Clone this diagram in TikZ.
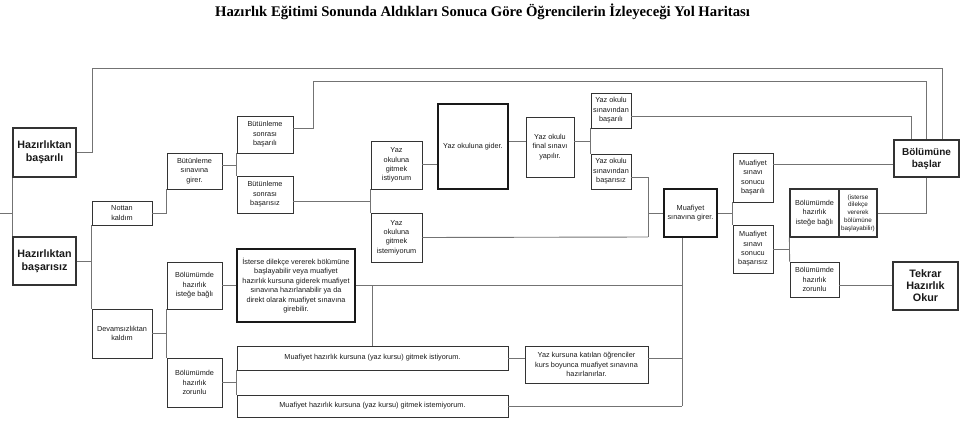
\documentclass[tikz,border=0pt]{standalone}
\usepackage{fontspec}
\setmainfont{Liberation Sans}
\newfontfamily\titlefont{Liberation Serif}

\begin{document}
\begin{tikzpicture}[x=1pt, y=-1pt,
  box/.style={draw=black!80, line width=0.8pt, inner sep=0pt, align=center,
    text=black!90, font=\fontsize{7.3}{9.4}\selectfont},
  bigbox/.style={box, line width=1.3pt, font=\bfseries\fontsize{10.7}{13}\selectfont},
  thickbox/.style={box, line width=1.6pt, draw=black!90},
  sz/.style 2 args={minimum width=#1, minimum height=#2},
  link/.style={draw=black!55, line width=0.9pt}]
  \useasboundingbox (0,0) rectangle (960,420);
  % Title
  \node[font=\titlefont\bfseries\fontsize{14.7}{17}\selectfont] (title) at (482.5,12)
    {Hazırlık Eğitimi Sonunda Aldıkları Sonuca Göre Öğrencilerin İzleyeceği Yol Haritası};
  % Hazirlik sonucu
  \node[bigbox, sz={63}{49}] (basarili) at (44.5,152.5) {Hazırlıktan\\başarılı};
  \node[bigbox, sz={63}{48}] (basarisiz) at (44.5,261) {Hazırlıktan\\başarısız};
  \node[box, sz={60}{24}] (nottan) at (122,213) {Nottan\\kaldım};
  \node[box, sz={60}{49}] (devam) at (122,333.5) {Devamsızlıktan\\kaldım};
  \node[box, sz={55}{36}] (butgirer) at (194.5,171) {Bütünleme\\sınavına\\girer.};
  \node[box, sz={55}{47}] (istegeA) at (194.5,285.5) {Bölümümde\\hazırlık\\isteğe bağlı};
  \node[box, sz={55}{49}] (zorunluA) at (194.5,382.5) {Bölümümde\\hazırlık\\zorunlu};
  % Butunleme
  \node[box, sz={56}{37}] (butok) at (265,134.5) {Bütünleme\\sonrası\\başarılı};
  \node[box, sz={56}{37}] (butno) at (265,194.5) {Bütünleme\\sonrası\\başarısız};
  \node[thickbox, sz={118}{73}] (isterse) at (296,285.5)
    {İsterse dilekçe vererek bölümüne\\başlayabilir veya muafiyet\\hazırlık kursuna giderek muafiyet\\sınavına hazırlanabilir ya da\\direkt olarak muafiyet sınavına\\girebilir.};
  \node[box, sz={271}{24}] (kursevet) at (372.5,358) {Muafiyet hazırlık kursuna (yaz kursu) gitmek istiyorum.};
  \node[box, sz={271}{22}] (kurshayir) at (372.5,406) {Muafiyet hazırlık kursuna (yaz kursu) gitmek istemiyorum.};
  % Yaz okulu
  \node[box, sz={51}{48}] (yazevet) at (396.5,165) {Yaz\\okuluna\\gitmek\\istiyorum};
  \node[box, sz={51}{49}] (yazhayir) at (396.5,237.5) {Yaz\\okuluna\\gitmek\\istemiyorum};
  \node[thickbox, sz={70}{85}] (gider) at (473,146.5) {Yaz okuluna gider.};
  \node[box, sz={48}{60}] (final) at (550,147) {Yaz okulu\\final sınavı\\yapılır.};
  \node[box, sz={40}{35}] (yazok) at (611,110.5) {Yaz okulu\\sınavından\\başarılı};
  \node[box, sz={40}{35}] (yazno) at (611,171.5) {Yaz okulu\\sınavından\\başarısız};
  \node[box, sz={123}{37}] (kurs) at (586.5,364.5)
    {Yaz kursuna katılan öğrenciler\\kurs boyunca muafiyet sınavına\\hazırlanırlar.};
  % Muafiyet
  \node[thickbox, sz={53}{48}] (mgirer) at (690.5,213) {Muafiyet\\sınavına girer.};
  \node[box, sz={40}{49}] (mok) at (753,177.5) {Muafiyet\\sınavı\\sonucu\\başarılı};
  \node[box, sz={40}{48}] (mno) at (753,249) {Muafiyet\\sınavı\\sonucu\\başarısız};
  \node[box, line width=1.2pt, sz={49}{48}] (istegeB) at (814.5,213) {Bölümümde\\hazırlık\\isteğe bağlı};
  \node[box, line width=1.2pt, sz={38}{48}, font=\fontsize{6.3}{7.8}\selectfont] (istersenot) at (858,213)
    {(isterse\\dilekçe\\vererek\\bölümüne\\başlayabilir)};
  \node[box, sz={49}{35}] (zorunluB) at (814.5,279.5) {Bölümümde\\hazırlık\\zorunlu};
  \node[bigbox, sz={65}{37}, font=\bfseries\fontsize{10}{12}\selectfont] (baslar) at (926.5,158.5) {Bölümüne\\başlar};
  \node[bigbox, sz={65}{48}, font=\bfseries\fontsize{10.8}{12}\selectfont] (tekrar) at (925.5,286) {Tekrar\\Hazırlık\\Okur};

  % Baglantilar
  \coordinate (edgeL) at (0,213);
  \coordinate (c1) at (92,68);
  \coordinate (c2) at (313,81);
  \coordinate (j1) at (648,237);
  \coordinate (j2) at (682,406);
  \draw[link] (edgeL) -- (edgeL -| basarili.west);
  \draw[link] (basarili.south west) -- (basarisiz.north west);
  \draw[link] (basarili.east) -| (c1) -| ([xshift=15.5]baslar.north);
  \draw[link] (basarisiz.east) -- (basarisiz.east -| nottan.west);
  \draw[link] (nottan.south west) -- (devam.north west);
  \draw[link] (nottan.east) -| (butgirer.south west);
  \draw[link] (devam.east) -- (devam.east -| istegeA.west);
  \draw[link] (istegeA.south west) -- (zorunluA.north west);
  \draw[link] ([yshift=6]butgirer.east) -- ([yshift=6]butgirer.east -| butok.west);
  \draw[link] (butok.south west) -- (butno.north west);
  \draw[link] ([yshift=6.5]butok.east) -| (c2) -| (baslar.north);
  \draw[link] ([yshift=-6.5]butno.east) -- ([yshift=-6.5]butno.east -| yazevet.west);
  \draw[link] (yazevet.south west) -- (yazhayir.north west);
  \draw[link] (istegeA.east) -- (isterse.west);
  \draw[link] (isterse.east) -- (isterse.east -| j2);
  \draw[link] (isterse.east -| kursevet.north) -- (kursevet.north);
  \draw[link] (zorunluA.east) -- (zorunluA.east -| kursevet.west);
  \draw[link] (kursevet.south west) -- (kurshayir.north west);
  \draw[link] (kursevet.east) -- (kursevet.east -| kurs.west);
  \draw[link] (kursevet.east -| kurs.east) -- (kursevet.east -| j2);
  \draw[link] (kurshayir.east) -- (j2);
  \draw[link] ([xshift=-8.5]mgirer.south) -- (j2);
  \draw[link] ([yshift=1]yazevet.east) -- ([yshift=1]yazevet.east -| gider.west);
  \draw[link] ([yshift=5.5]gider.east) -- ([yshift=5.5]gider.east -| final.west);
  \draw[link] ([yshift=6]final.east) -- ([yshift=6]final.east -| yazok.west);
  \draw[link] (yazok.south west) -- (yazno.north west);
  \draw[link] ([yshift=-5.5]yazok.east) -| ([xshift=-15.5]baslar.north);
  \draw[link] ([yshift=-5.5]yazno.east) -| (j1);
  \draw[link] (yazhayir.east) -- (j1);
  \draw[link] (j1 |- mgirer.west) -- (mgirer.west);
  \draw[link] (mgirer.east) -- (mgirer.east -| mok.west);
  \draw[link] (mok.south west) -- (mno.north west);
  \draw[link] ([yshift=13.5]mok.east) -- ([yshift=13.5]mok.east -| baslar.west);
  \draw[link] (mno.east) -- (mno.east -| istegeB.west);
  \draw[link] (istegeB.south west) -- (zorunluB.north west);
  \draw[link] (istersenot.east) -| (baslar.south);
  \draw[link] ([yshift=-5.5]zorunluB.east) -- ([yshift=-5.5]zorunluB.east -| tekrar.west);
\end{tikzpicture}
\end{document}
